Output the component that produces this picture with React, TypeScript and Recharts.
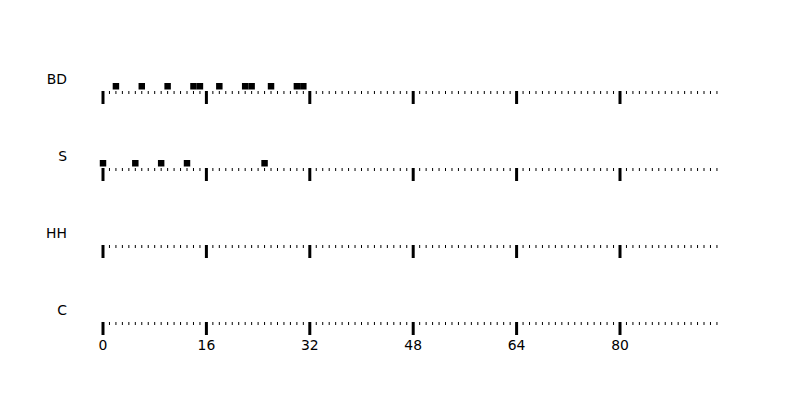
import React from 'react';
import { ScatterChart, Scatter, XAxis, YAxis } from 'recharts';

const ROW_NAMES = ['BD', 'S', 'HH', 'C'];
const BD_HITS = [2, 6, 10, 14, 15, 18, 22, 23, 26, 30, 31];
const S_HITS = [0, 5, 9, 13, 25];
const HH_HITS: number[] = [];
const C_HITS: number[] = [];
const MAJOR_TICKS = [0, 16, 32, 48, 64, 80];
const STEP_COUNT = 96;
const STEP_TICKS = Array.from({ length: STEP_COUNT }, (_, i) => i);

const ROW_HITS = [BD_HITS, S_HITS, HH_HITS, C_HITS];

const FONT = '"DejaVu Sans", sans-serif';
const FONT_SIZE = 13.9;
const ROW_AXIS_Y = [91, 168, 245, 322];
const CHART_H = 80;
const XAXIS_H = 30;
const PLOT_LEFT = 103;
const PLOT_RIGHT = 723.4;
const YAXIS_W = 60;
const UNIT = (PLOT_RIGHT - PLOT_LEFT) / STEP_COUNT;

const makeStepTick = (showLabel: boolean) => (props: any) => {
  const { x, y, payload } = props;
  const v = payload.value;
  const major = MAJOR_TICKS.includes(v);
  return (
    <g>
      {major ? (
        <line x1={x} x2={x} y1={y} y2={y + 13} stroke="#000" strokeWidth={3} />
      ) : (
        <line x1={x} x2={x} y1={y} y2={y + 3} stroke="#000" strokeWidth={1} />
      )}
      {major && showLabel && (
        <text x={x} y={y + 23} textAnchor="middle" dominantBaseline="central" fontFamily={FONT} fontSize={FONT_SIZE} fill="#000">
          {v}
        </text>
      )}
    </g>
  );
};

const makeRowLabel = (name: string) => (props: any) => {
  const { y } = props;
  return (
    <text x={67} y={y - 12} textAnchor="end" dominantBaseline="central" fontFamily={FONT} fontSize={FONT_SIZE} fill="#000">
      {name}
    </text>
  );
};

const HitShape = (props: any) => {
  const { cx, cy } = props;
  return <rect x={cx - UNIT / 2} y={cy - 8} width={UNIT} height={6.5} fill="#000" />;
};

const NoShape = () => <g />;

export default function App() {
  const gridData = STEP_TICKS.map((s) => ({ step: s, row: 0 }));
  return (
    <div style={{ position: 'absolute', left: 0, top: 0, width: 800, height: 400, background: '#fff' }}>
      {ROW_NAMES.map((name, i) => {
        const data = ROW_HITS[i].map((s) => ({ step: s, row: 0 }));
        const top = ROW_AXIS_Y[i] - (CHART_H - XAXIS_H);
        return (
          <div key={name} style={{ position: 'absolute', left: 0, top, width: 800, height: CHART_H }}>
            <ScatterChart
              width={800}
              height={CHART_H}
              margin={{ top: 10, right: 800 - PLOT_RIGHT, bottom: 0, left: PLOT_LEFT - YAXIS_W }}
            >
              <XAxis
                type="number"
                dataKey="step"
                domain={[0, STEP_COUNT]}
                ticks={STEP_TICKS}
                interval={0}
                axisLine={false}
                tickLine={false}
                tickSize={0}
                tickMargin={0}
                height={XAXIS_H}
                tick={makeStepTick(i === ROW_NAMES.length - 1)}
              />
              <YAxis
                type="number"
                dataKey="row"
                domain={[0, 1]}
                ticks={[0]}
                width={YAXIS_W}
                axisLine={false}
                tickLine={false}
                tick={makeRowLabel(name)}
              />
              <Scatter data={gridData} shape={<NoShape />} isAnimationActive={false} />
              <Scatter data={data} shape={<HitShape />} isAnimationActive={false} />
            </ScatterChart>
          </div>
        );
      })}
    </div>
  );
}
